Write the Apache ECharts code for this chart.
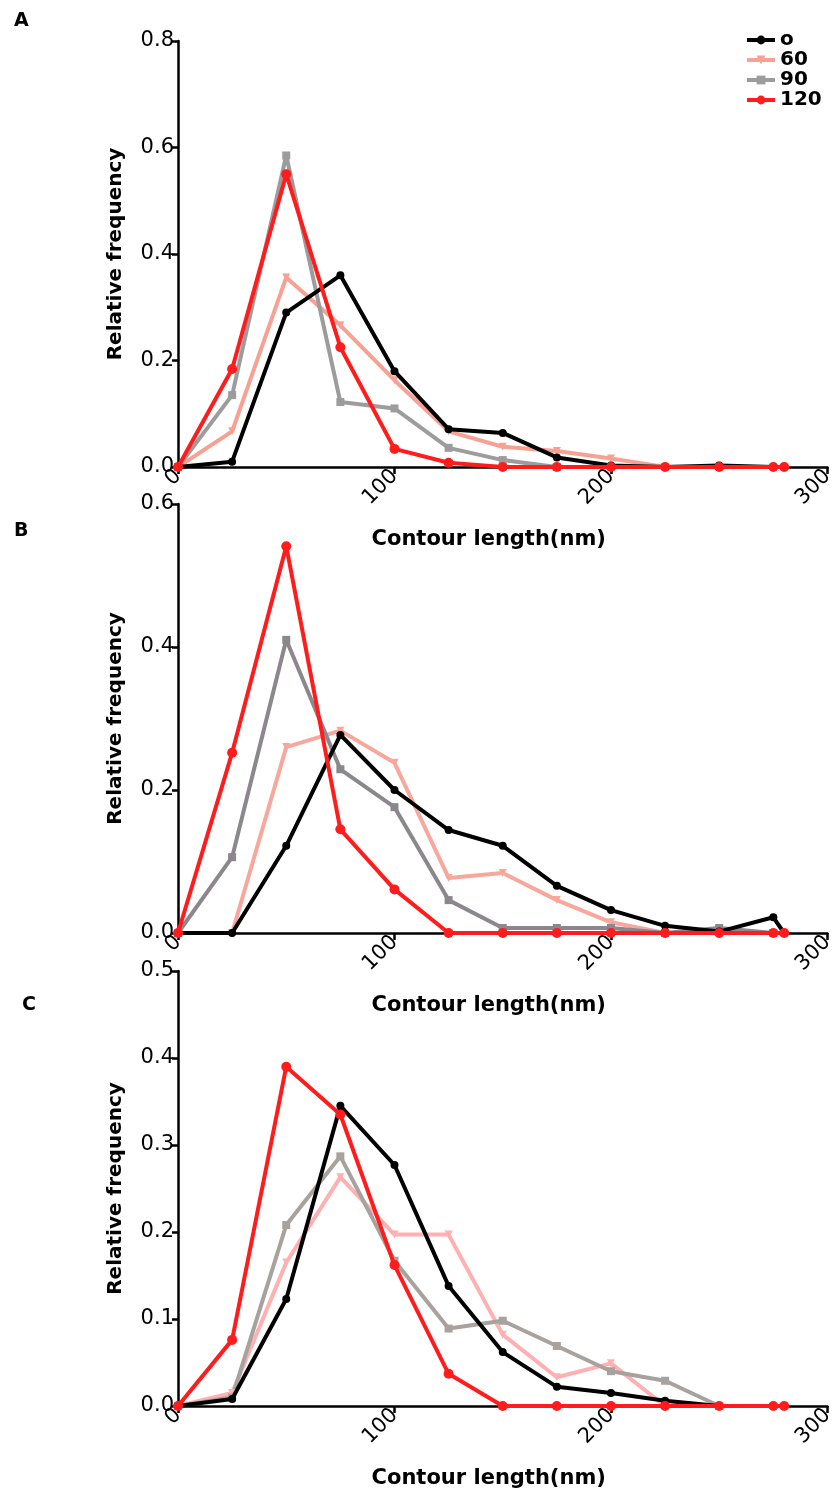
<!DOCTYPE html>
<html><head><meta charset="utf-8">
<script src="https://cdn.jsdelivr.net/npm/echarts@6/dist/echarts.min.js"></script>
<style>html,body{margin:0;padding:0;background:#fff}#c{width:837px;height:1495px}</style>
</head><body><div id="c"></div>
<script>
const seriesNames = ['o', '60', '90', '120'];
const xA = [0,25,50,75,100,125,150,175,200,225,250,275,280];
// Panel A
const A_o   = [0,0.01,0.29,0.36,0.18,0.071,0.064,0.018,0.003,0,0.003,0,0];
const A_60  = [0,0.067,0.356,0.266,0.163,0.067,0.038,0.03,0.016,0];
const A_90  = [0,0.135,0.585,0.122,0.11,0.036,0.013,0];
const A_120 = [0,0.184,0.55,0.225,0.034,0.008,0,0,0,0,0,0,0];
// Panel B
const B_o   = [0,0,0.122,0.277,0.2,0.144,0.122,0.066,0.032,0.01,0.002,0.022,0];
const B_60  = [0,0,0.26,0.283,0.238,0.077,0.084,0.046,0.015,0];
const B_90  = [0,0.106,0.41,0.229,0.176,0.046,0.007,0.007,0.007,0,0.007,0];
const B_120 = [0,0.252,0.541,0.145,0.061,0,0,0,0,0,0,0,0];
// Panel C
const C_o   = [0,0.008,0.123,0.345,0.277,0.138,0.062,0.022,0.015,0.006,0];
const C_60  = [0,0.015,0.165,0.263,0.197,0.197,0.082,0.033,0.049,0];
const C_90  = [0,0.01,0.208,0.287,0.167,0.089,0.098,0.069,0.04,0.029,0];
const C_120 = [0,0.076,0.39,0.335,0.162,0.037,0,0,0,0,0,0,0];
const xTicks = [0,100,200,300];
const yMaxes = [0.8, 0.6, 0.5];
const yIntervals = [0.2, 0.2, 0.1];
const panelLetters = ['A','B','C'];
const xTitle = 'Contour length(nm)';
const yTitle = 'Relative frequency';

const colorsA = ['#000000','#f6a194','#9c9c9c','#ff1c1c'];
const colorsB = ['#000000','#f8a79c','#8b878c','#ff1c1c'];
const colorsC = ['#000000','#ffb0b0','#a8a29e','#ff1c1c'];
const symbols = ['circle','triangle','rect','circle'];
const symSizes = [8,8,8,10];

const panels = [
  {data:[A_o,A_60,A_90,A_120], colors:colorsA},
  {data:[B_o,B_60,B_90,B_120], colors:colorsB},
  {data:[C_o,C_60,C_90,C_120], colors:colorsC}
];
const grids = [
  {left:178, width:652, top:41, height:426},
  {left:178, width:652, top:504, height:429},
  {left:178, width:652, top:971, height:435}
];
const font = 'DejaVu Sans, Verdana, sans-serif';

const xAxis = [], yAxis = [], series = [];
panels.forEach((p, i) => {
  xAxis.push({
    type:'value', gridIndex:i, min:0, max:300, interval:100,
    name:xTitle, nameLocation:'middle', nameGap: 62,
    nameTextStyle:{fontFamily:font, fontWeight:'bold', fontSize:21, color:'#000', padding:[0,28,0,0]},
    axisLine:{show:true, onZero:false, lineStyle:{color:'#000', width:2.5}},
    axisTick:{show:true, length:7, lineStyle:{color:'#000', width:2.5}},
    axisLabel:{rotate:45, fontFamily:font, fontSize:21, color:'#000', margin:6,
      formatter:v => xTicks.includes(v) ? String(v) : ''},
    splitLine:{show:false}
  });
  yAxis.push({
    type:'value', gridIndex:i, min:0, max:yMaxes[i], interval:yIntervals[i],
    name:yTitle, nameLocation:'middle', nameGap:52, nameRotate:90,
    nameTextStyle:{fontFamily:font, fontWeight:'bold', fontSize:20, color:'#000'},
    axisLine:{show:true, lineStyle:{color:'#000', width:2.5}},
    axisTick:{show:true, length:6, lineStyle:{color:'#000', width:2.5}},
    axisLabel:{fontFamily:font, fontSize:21, color:'#000', margin:4,
      formatter:v => v.toFixed(1)},
    splitLine:{show:false}
  });
  p.data.forEach((vals, k) => {
    series.push({
      type:'line', name:seriesNames[k], xAxisIndex:i, yAxisIndex:i,
      data: vals.map((v, j) => [xA[j], v]),
      symbol:symbols[k], symbolSize:symSizes[k],
      symbolRotate: k===1 ? 180 : 0,
      showAllSymbol:true,
      lineStyle:{color:p.colors[k], width:4},
      itemStyle:{color:p.colors[k]},
      z: k===3 ? 5 : (k===0 ? 4 : 3),
      emphasis:{disabled:true}, animation:false
    });
  });
});

const chart = echarts.init(document.getElementById('c'), null, {renderer:'canvas'});
chart.setOption({
  backgroundColor:'#fff',
  animation:false,
  grid: grids,
  xAxis, yAxis, series,
  legend:{
    data:seriesNames, orient:'vertical', left:740, top:25, itemGap:0,
    itemWidth:28, itemHeight:11,
    lineStyle:{width:4},
    textStyle:{fontFamily:font, fontWeight:'bold', fontSize:20, color:'#000', lineHeight:20},
    selectedMode:false
  },
  graphic: panelLetters.map((t, i) => ({
    type:'text', left: i===2 ? 22 : 14, top: [12, 522, 996][i],
    style:{text:t, font:'bold 19px ' + font, fill:'#000'}
  }))
});
</script></body></html>
